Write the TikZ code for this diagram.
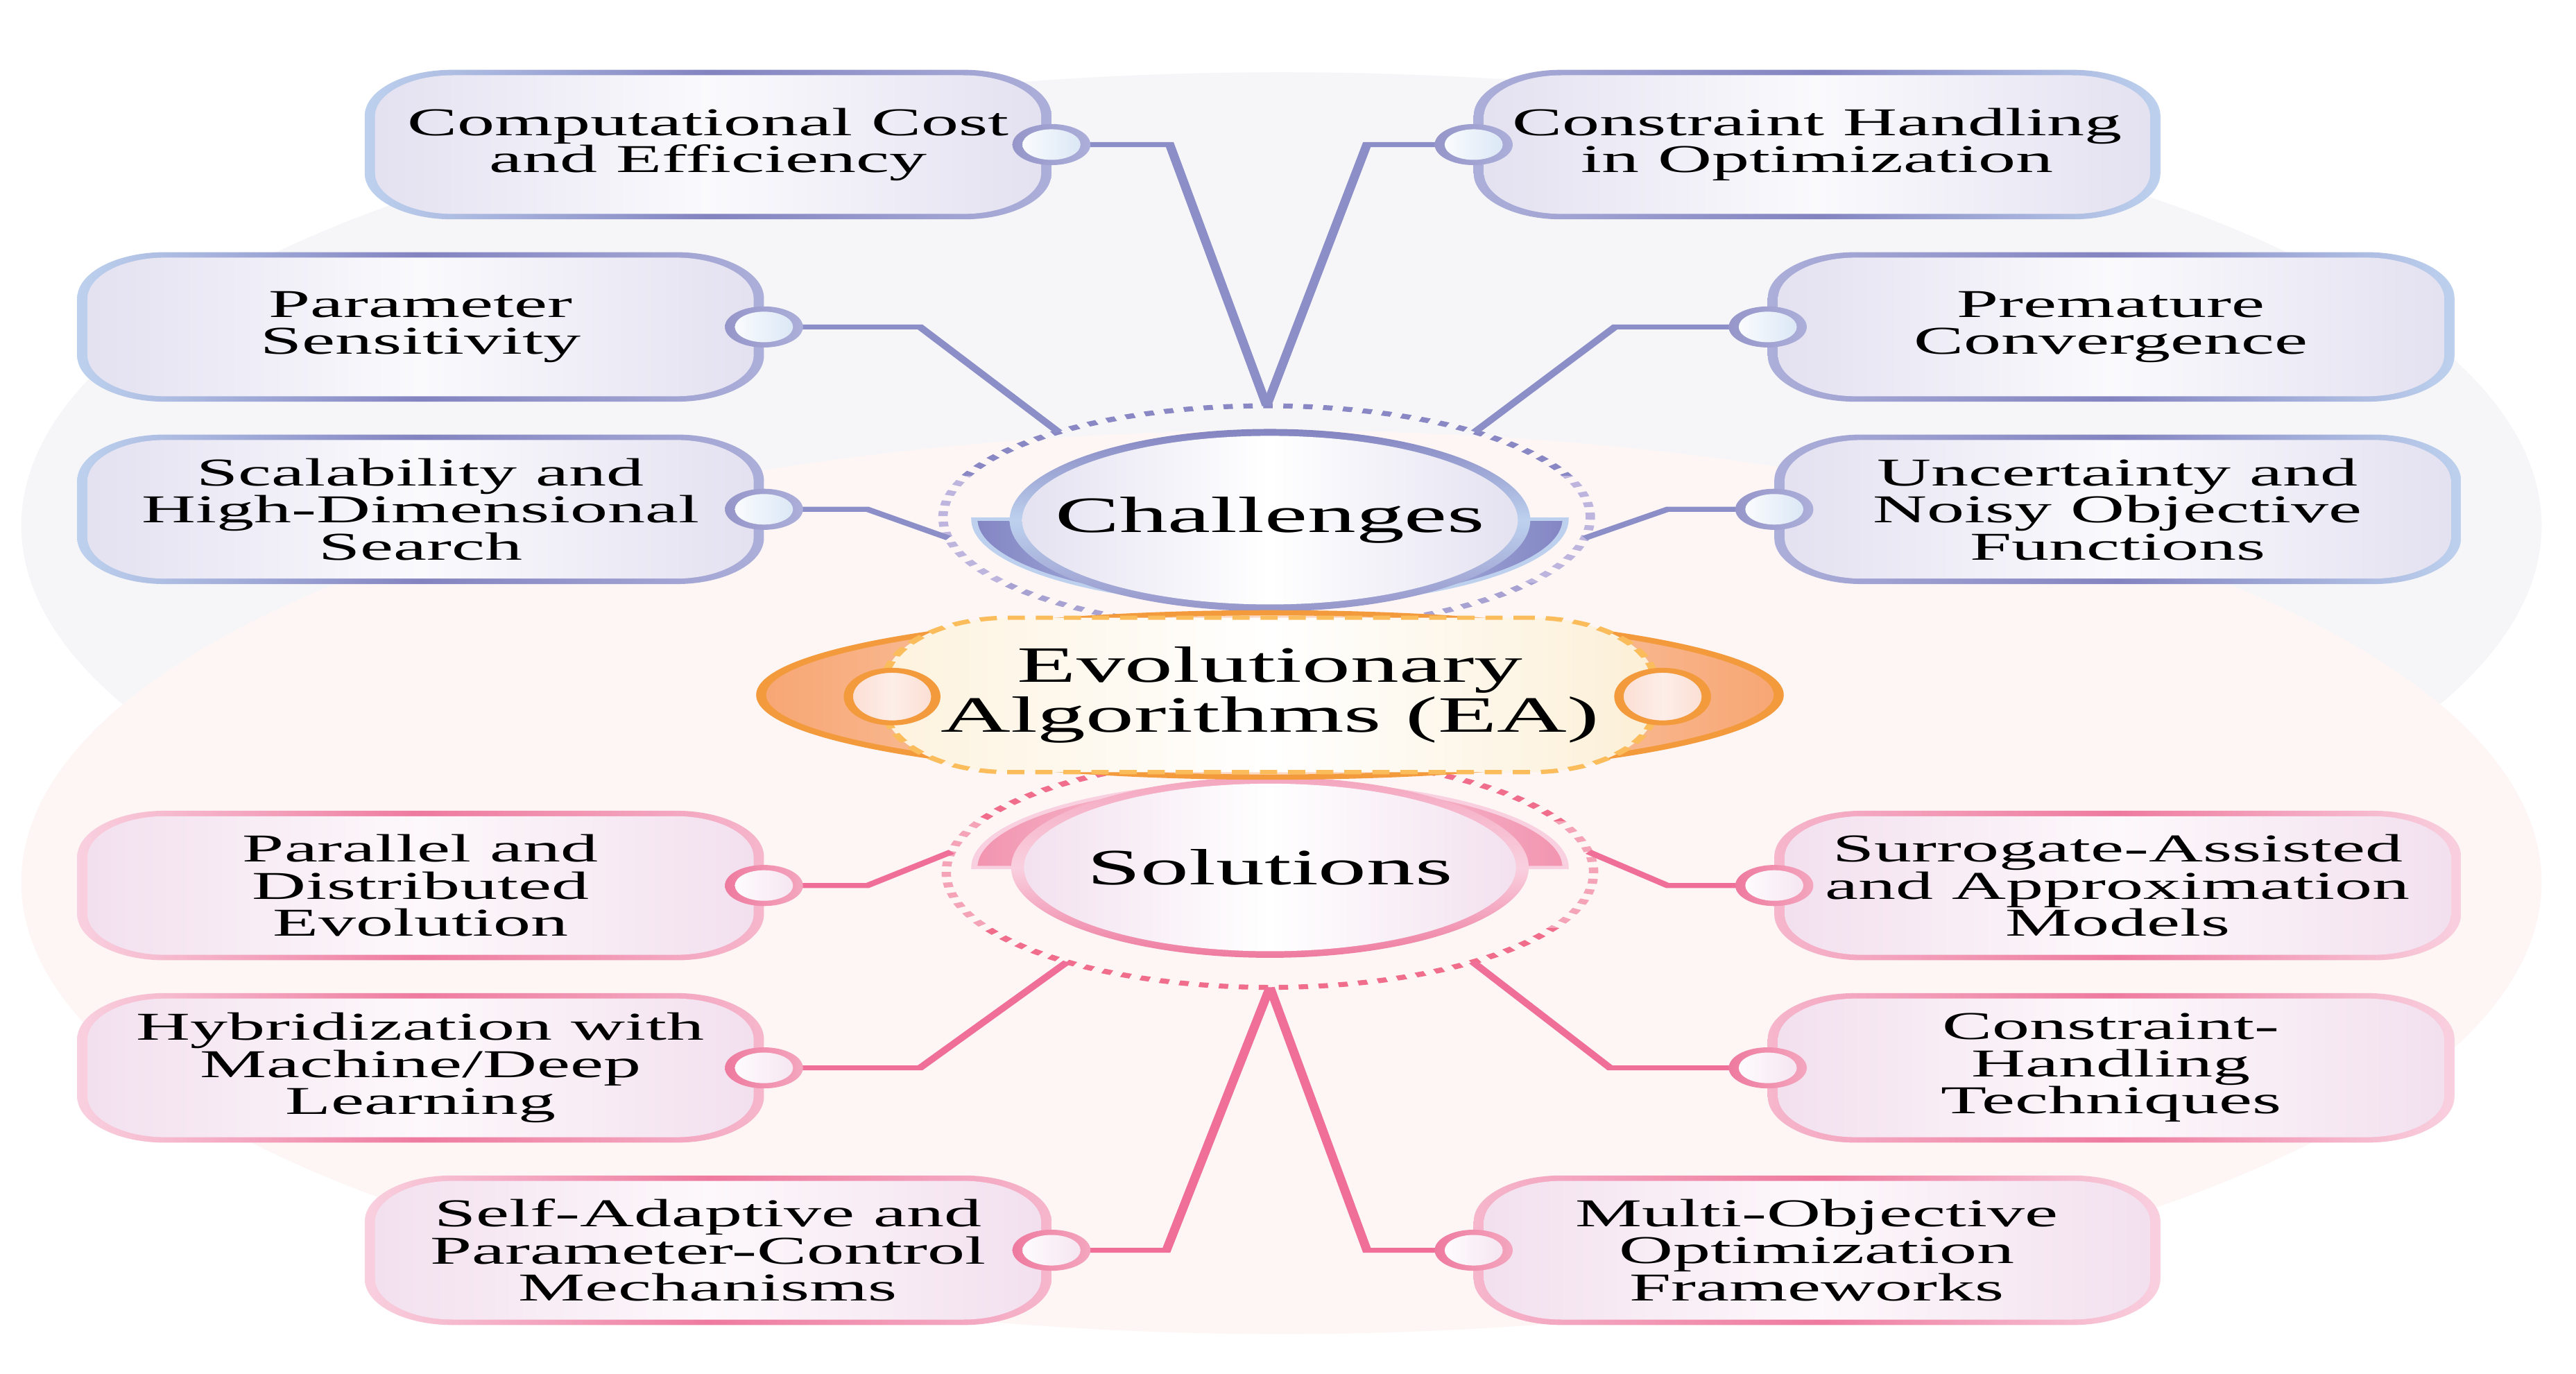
\documentclass[tikz,border=0pt]{standalone}
\usepackage{fontspec}
\setmainfont{Liberation Serif}
\usetikzlibrary{shapes.geometric}
\definecolor{bgtop}{HTML}{F6F6F9}
\definecolor{bgbot}{HTML}{FDF6F5}
\definecolor{cdark}{HTML}{8383C0}
\definecolor{cblue}{HTML}{BDD1EE}
\definecolor{clav}{HTML}{ACAFD9}
\definecolor{cfill}{HTML}{E3E0F0}
\definecolor{cmidf}{HTML}{FAFAFD}
\definecolor{cin}{HTML}{D6E4F4}
\definecolor{clin}{HTML}{8C8EC8}
\definecolor{cdotd}{HTML}{8A88C4}
\definecolor{cdotl}{HTML}{BDB5DD}
\definecolor{cdotm}{HTML}{A8A2D2}
\definecolor{pdark}{HTML}{EE7A9F}
\definecolor{plight}{HTML}{F9D0DF}
\definecolor{pmid}{HTML}{F4A6BF}
\definecolor{pfill}{HTML}{F2DFEE}
\definecolor{pmidf}{HTML}{FDF8FB}
\definecolor{pin}{HTML}{F4E2EF}
\definecolor{plin}{HTML}{EF6F99}
\definecolor{pdotd}{HTML}{F06E8C}
\definecolor{pdotl}{HTML}{F5A3B6}
\definecolor{orng}{HTML}{F39A3C}
\definecolor{peach}{HTML}{F7A673}
\definecolor{peachl}{HTML}{FCDCCB}
\definecolor{cream}{HTML}{FDF2DD}
\definecolor{creamr}{HTML}{FCEFD6}
\definecolor{eadash}{HTML}{FBBC5C}
\definecolor{ringin}{HTML}{FBDDD2}
\definecolor{crescC}{HTML}{8385C3}
\definecolor{crescP}{HTML}{F294B0}
\newcommand\bxfont{\fontsize{24pt}{22.6pt}\selectfont}
\newcommand\hbfont{\fontsize{31pt}{30pt}\selectfont}
\tikzset{
  boxbase/.style={rectangle, rounded corners=28pt, minimum width=220pt, minimum height=91pt,
    inner sep=0pt, outer sep=0pt, align=center, font=\bxfont, text=black},
  innerbox/.style n args={3}{path picture={\shade[rounded corners=25pt, left color=#1, right color=#3, middle color=#2]
    ([shift={(3.3pt,3.3pt)}]path picture bounding box.south west) rectangle
    ([shift={(-3.3pt,-3.3pt)}]path picture bounding box.north east);}},
  cboxL/.style={boxbase, left color=cblue, right color=clav, middle color=cdark, innerbox={cfill}{cmidf}{cfill}},
  cboxR/.style={boxbase, left color=clav, right color=cblue, middle color=cdark, innerbox={cfill}{cmidf}{cfill}},
  pboxL/.style={boxbase, left color=plight, right color=plight!70!pdark, middle color=pdark, innerbox={pfill}{pmidf}{pfill}},
  pboxR/.style={boxbase, left color=plight!70!pdark, right color=plight, middle color=pdark, innerbox={pfill}{pmidf}{pfill}},
  cdot/.style={circle, minimum size=25pt, inner sep=0pt, outer sep=0pt, left color=cdark!85!white, right color=clav,
    path picture={\shade[left color=white, right color=cin] (path picture bounding box.center) circle[radius=9.3pt];}},
  pdot/.style={circle, minimum size=25pt, inner sep=0pt, outer sep=0pt, left color=pdark, right color=pmid,
    path picture={\shade[left color=white, right color=pin] (path picture bounding box.center) circle[radius=9.3pt];}},
  hubC/.style={ellipse, minimum width=166.8pt, minimum height=111pt, inner sep=0pt, outer sep=0pt,
    top color=cdark, bottom color=cdark!85!white, middle color=cblue, font=\hbfont,
    path picture={\shade[left color=cfill, right color=cfill, middle color=white]
      (path picture bounding box.center) ellipse [x radius=79.4pt, y radius=51.3pt];}},
  hubS/.style={ellipse, minimum width=165.8pt, minimum height=110pt, inner sep=0pt, outer sep=0pt,
    top color=pmid, bottom color=pdark, middle color=plight, font=\hbfont,
    path picture={\shade[left color=pfill, right color=pfill, middle color=white]
      (path picture bounding box.center) ellipse [x radius=78.8pt, y radius=51pt];}},
  dotring/.style={ellipse, minimum width=207.4pt, minimum height=136pt, inner sep=0pt, outer sep=0pt},
  dotline/.style={line width=3pt, dash pattern=on 3pt off 3.4pt},
  clk/.style={draw=clin, line width=3pt, line join=miter},
  plk/.style={draw=plin, line width=3pt, line join=miter},
}
\begin{document}
\begin{tikzpicture}
\useasboundingbox (0,0) rectangle (1568pt,-836pt);
\fill[white] (0,0) rectangle (1568pt,-836pt);
\begin{scope}[x=0.526316pt, y=-1pt, transform canvas={xscale=1.9}]
% background ellipses
\fill[bgtop] (780,320) ellipse [x radius=403.7pt, y radius=276pt];
\fill[bgbot] (780,537) ellipse [x radius=403.7pt, y radius=275pt];

% crescents
\path[draw=cblue, line width=2pt, left color=crescC, right color=crescC, middle color=cblue]
  (773,316) ++(-94.7pt,0) arc[start angle=180, end angle=360, x radius=94.7pt, y radius=52pt] -- cycle;
\path[draw=plight, line width=2pt, left color=crescP, right color=crescP, middle color=plight]
  (773,528) ++(-94.7pt,0) arc[start angle=180, end angle=0, x radius=94.7pt, y radius=52pt] -- cycle;

% hubs
\node[hubC] (ch) at (773,316.6) {\makebox[0pt]{Challenges}};
\node[hubS] (so) at (773,528) {\makebox[0pt]{Solutions}};

% dotted rings
\node[dotring] (chd) at (771,315) {};
\node[dotring, minimum height=140pt] (sod) at (773,531) {};
\begin{scope}\clip (0,200) rectangle (1568,290);
  \draw[dotline, cdotd] (chd.center) ellipse [x radius=103.7pt, y radius=68pt];\end{scope}
\begin{scope}\clip (0,290) rectangle (1568,355);
  \draw[dotline, cdotl] (chd.center) ellipse [x radius=103.7pt, y radius=68pt];\end{scope}
\begin{scope}\clip (0,355) rectangle (1568,400);
  \draw[dotline, cdotm] (chd.center) ellipse [x radius=103.7pt, y radius=68pt];\end{scope}
\begin{scope}\clip (0,450) rectangle (1568,500);
  \draw[dotline, pdotd] (sod.center) ellipse [x radius=103.7pt, y radius=70pt];\end{scope}
\begin{scope}\clip (0,500) rectangle (1568,565);
  \draw[dotline, pdotl] (sod.center) ellipse [x radius=103.7pt, y radius=70pt];\end{scope}
\begin{scope}\clip (0,565) rectangle (1568,620);
  \draw[dotline, pdotd] (sod.center) ellipse [x radius=103.7pt, y radius=70pt];\end{scope}

% central EA
\node[ellipse, minimum width=326pt, minimum height=100pt, inner sep=0pt, outer sep=0pt,
  draw=orng, line width=3.2pt, left color=peach, right color=peach, middle color=peachl] (eao) at (773,423) {};
\node[rectangle, rounded corners=40pt, minimum width=247pt, minimum height=94pt, inner sep=0pt,
  draw=eadash, line width=2.6pt, dash pattern=on 5.5pt off 3.5pt,
  left color=cream, right color=creamr, middle color=white, align=center, font=\hbfont]
  (ea) at (773,423) {Evolutionary\\Algorithms (EA)};
\node[ellipse, minimum width=28pt, minimum height=32pt, inner sep=0pt, draw=orng, line width=3pt,
  left color=ringin, right color=ringin, middle color=white!50!ringin] (eal) at (543,424) {};
\node[ellipse, minimum width=28pt, minimum height=32pt, inner sep=0pt, draw=orng, line width=3pt,
  left color=ringin, right color=ringin, middle color=white!50!ringin] (ear) at (1012,424) {};

% boxes
\node[cboxL] (b1) at (431,88) {Computational Cost\\and Efficiency};
\node[cboxR] (b2) at (1106,88) {Constraint Handling\\in Optimization};
\node[cboxL] (b3) at (256,199) {Parameter\\Sensitivity};
\node[cboxR] (b4) at (1285,199) {Premature\\Convergence};
\node[cboxL] (b5) at (256,310) {Scalability and\\High-Dimensional\\Search};
\node[cboxR] (b6) at (1289,310) {Uncertainty and\\Noisy Objective\\Functions};
\node[pboxL] (b7) at (256,539) {Parallel and\\Distributed\\Evolution};
\node[pboxR] (b8) at (1289,539) {Surrogate-Assisted\\and Approximation\\Models};
\node[pboxL] (b9) at (256,650) {Hybridization with\\Machine/Deep\\Learning};
\node[pboxR] (b10) at (1285,650) {Constraint-\\Handling\\Techniques};
\node[pboxL] (b11) at (431,761) {Self-Adaptive and\\Parameter-Control\\Mechanisms};
\node[pboxR] (b12) at (1106,761) {Multi-Objective\\Optimization\\Frameworks};

% connectors
\draw[clk] (b1.east) -- (712,88) -- (chd.north);
\draw[clk] (b2.west) -- (832,88) -- (chd.north);
\draw[clk] (b3.east) -- (560,199) -- (chd.142);
\draw[clk] (b4.west) -- (983,199) -- (chd.38);
\draw[clk] (b5.east) -- (528,310) -- (chd.187);
\draw[clk] (b6.west) -- (1015,310) -- (chd.353);
\draw[plk] (b7.east) -- (528,539) -- (sod.173);
\draw[plk] (b8.west) -- (1015,539) -- (sod.7);
\draw[plk] (b9.east) -- (560,650) -- (sod.220);
\draw[plk] (b10.west) -- (980,650) -- (sod.320);
\draw[plk] (b11.east) -- (710,761) -- (sod.south);
\draw[plk] (b12.west) -- (832,761) -- (sod.south);

% connector dots
\node[cdot] (c1) at (b1.east) {};
\node[cdot] (c2) at (b2.west) {};
\node[cdot] (c3) at (b3.east) {};
\node[cdot] (c4) at (b4.west) {};
\node[cdot] (c5) at (b5.east) {};
\node[cdot] (c6) at (b6.west) {};
\node[pdot] (c7) at (b7.east) {};
\node[pdot] (c8) at (b8.west) {};
\node[pdot] (c9) at (b9.east) {};
\node[pdot] (c10) at (b10.west) {};
\node[pdot] (c11) at (b11.east) {};
\node[pdot] (c12) at (b12.west) {};
\end{scope}
\end{tikzpicture}
\end{document}
